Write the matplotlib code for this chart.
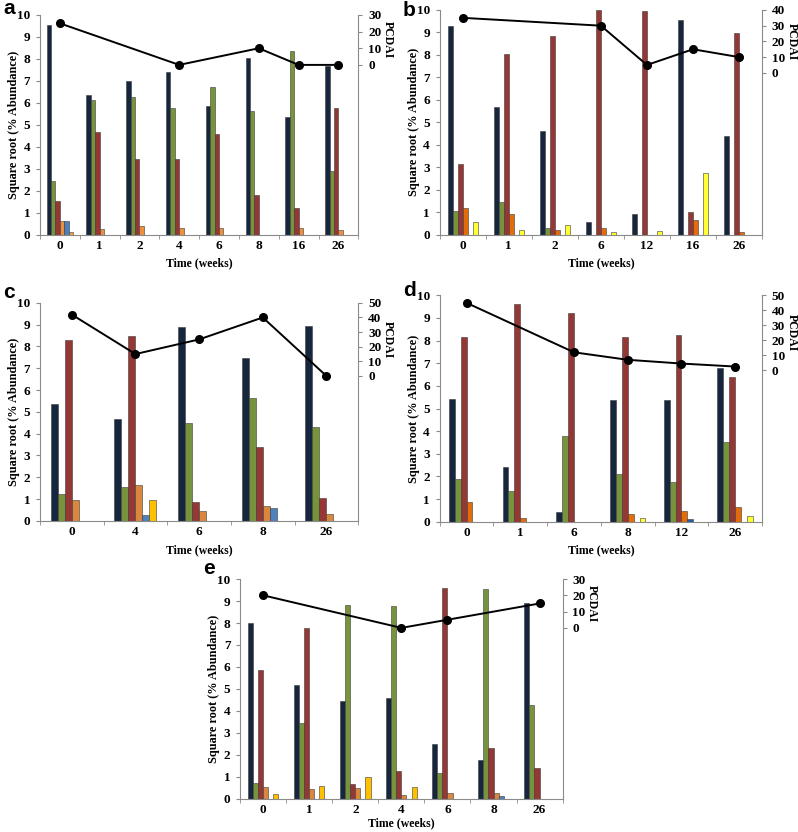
import matplotlib
matplotlib.use("Agg")
import matplotlib.pyplot as plt
import numpy as np

plt.rcParams['font.family'] = ['Liberation Serif', 'DejaVu Serif']

nan = np.nan

# panel a
weeks_a = ['0', '1', '2', '4', '6', '8', '16', '26']
navy_a = [9.55, 6.35, 7.0, 7.42, 5.85, 8.05, 5.35, 7.68]
green_a = [2.45, 6.12, 6.25, 5.75, 6.7, 5.65, 8.35, 2.9]
red_a = [1.55, 4.68, 3.43, 3.43, 4.58, 1.8, 1.22, 5.75]
orange_a = [0.62, 0.25, 0.38, 0.32, 0.3, 0, 0.3, 0.2]
blue_a = [0.6, 0, 0, 0, 0, 0, 0, 0]
yellow_a = [0.1, 0, 0, 0, 0, 0, 0, 0]
pcdai_a = [25, nan, nan, 0, nan, 10, 0, 0]

# panel b
weeks_b = ['0', '1', '2', '6', '12', '16', '26']
navy_b = [9.28, 5.7, 4.62, 0.57, 0.93, 9.55, 4.4]
green_b = [1.05, 1.47, 0.3, 0, 0, 0, 0]
red_b = [3.15, 8.02, 8.85, 10.0, 9.95, 1.02, 8.97]
orange_b = [1.2, 0.92, 0.2, 0.3, 0, 0.65, 0.13]
blue_b = [0, 0, 0, 0, 0, 0, 0]
yellow_b = [0.57, 0.2, 0.42, 0.1, 0.18, 2.73, 0]
pcdai_b = [35, nan, nan, 30, 5, 15, 10]

# panel c
weeks_c = ['0', '4', '6', '8', '26']
navy_c = [5.35, 4.68, 8.87, 7.45, 8.95]
green_c = [1.22, 1.57, 4.5, 5.65, 4.3]
red_c = [8.3, 8.47, 0.87, 3.4, 1.03]
orange_c = [0.97, 1.65, 0.45, 0.68, 0.32]
blue_c = [0, 0.25, 0, 0.57, 0]
yellow_c = [0, 0.97, 0, 0, 0]
pcdai_c = [42, 15, 25, 40, 0]

# panel d
weeks_d = ['0', '1', '6', '8', '12', '26']
navy_d = [5.4, 2.4, 0.42, 5.38, 5.38, 6.78]
green_d = [1.9, 1.37, 3.8, 2.12, 1.75, 3.52]
red_d = [8.15, 9.6, 9.23, 8.15, 8.23, 6.38]
orange_d = [0.87, 0.15, 0, 0.33, 0.45, 0.63]
blue_d = [0, 0, 0, 0, 0.12, 0]
yellow_d = [0, 0, 0, 0.17, 0, 0.25]
pcdai_d = [45, nan, 12, 7, 4.5, 2.5]

# panel e
weeks_e = ['0', '1', '2', '4', '6', '8', '26']
navy_e = [8.02, 5.17, 4.47, 4.57, 2.5, 1.78, 8.9]
green_e = [0.72, 3.47, 8.83, 8.78, 1.15, 9.55, 4.28]
red_e = [5.87, 7.77, 0.68, 1.25, 9.6, 2.3, 1.42]
orange_e = [0.52, 0.42, 0.48, 0.15, 0.25, 0.27, 0]
blue_e = [0, 0, 0, 0, 0, 0.13, 0]
yellow_e = [0.2, 0.6, 1.0, 0.52, 0, 0, 0]
pcdai_e = [20, nan, nan, 0, 5, nan, 15]

NAVY = '#17263f'
GREEN = '#77933c'
RED = '#953735'
AX_COL = '#8a8a8a'


def panel(rect, letter, letter_xy, weeks, series, colors, pcdai, pmax, plow, xpad=4):
    ax = fig.add_axes(rect)
    n = len(weeks)
    x = np.arange(n)
    w = 0.11
    for k, (vals, col) in enumerate(zip(series, colors)):
        ax.bar(x + (k - 2.5) * w, vals, w, color=col,
               edgecolor='#3a3a3a', linewidth=0.4, zorder=2)
    ax.set_xlim(-0.5, n - 0.5)
    ax.set_ylim(0, 10)
    ax.set_yticks(range(11))
    ax.set_xticks(x)
    ax.set_xticklabels(weeks)
    ax.set_xticks(np.arange(n + 1) - 0.5, minor=True)
    ax.tick_params(axis='x', which='major', length=0, pad=4)
    ax.tick_params(axis='x', which='minor', length=3, color=AX_COL, direction='out')
    ax.tick_params(axis='y', length=3, color=AX_COL, pad=4)
    for lab in ax.get_xticklabels() + ax.get_yticklabels():
        lab.set_fontweight('bold')
        lab.set_fontsize(9.5)
    ax.spines['top'].set_visible(False)
    ax.spines['right'].set_visible(False)
    for s in ('left', 'bottom'):
        ax.spines[s].set_color(AX_COL)
    ax.set_xlabel('Time (weeks)', fontweight='bold', fontsize=8.5, labelpad=xpad)
    ax.set_ylabel('Square root (% Abundance)', fontweight='bold', fontsize=8.8)
    ax.yaxis.set_label_coords(-0.062, 0.5)

    ax2 = ax.twinx()
    p = np.array(pcdai, dtype=float)
    ok = ~np.isnan(p)
    ax2.plot(x[ok], p[ok], color='black', linewidth=1.4, marker='o',
             markersize=5.5, zorder=3)
    ax2.set_ylim(plow, pmax)
    ax2.set_yticks(range(0, pmax + 1, 10))
    ax2.tick_params(axis='y', length=3, color=AX_COL, pad=4)
    for lab in ax2.get_yticklabels():
        lab.set_fontweight('bold')
        lab.set_fontsize(9.5)
    ax2.spines['top'].set_visible(False)
    ax2.spines['left'].set_visible(False)
    ax2.spines['bottom'].set_visible(False)
    ax2.spines['right'].set_color(AX_COL)
    yfrac = (pmax / 2 - plow) / (pmax - plow)
    ax2.text(1.092, yfrac, 'PCDAI', rotation=270, transform=ax2.transAxes,
             ha='center', va='center', fontweight='bold', fontsize=8.5)

    fig.text(letter_xy[0] / 798, 1 - letter_xy[1] / 832, letter,
             family='Liberation Sans', fontweight='bold', fontsize=15,
             ha='left', va='center')
    return ax


fig = plt.figure(figsize=(7.98, 8.32), dpi=100)

panel([0.050, 0.718, 0.399, 0.264], 'a', (3, 9), weeks_a,
      [navy_a, green_a, red_a, orange_a, blue_a, yellow_a],
      [NAVY, GREEN, RED, '#ec8f3e', '#4f81bd', '#f2a33a'],
      pcdai_a, 30, -102)
panel([0.551, 0.718, 0.404, 0.270], 'b', (403, 10), weeks_b,
      [navy_b, green_b, red_b, orange_b, blue_b, yellow_b],
      [NAVY, GREEN, RED, '#e36c0a', '#4f81bd', '#ffff33'],
      pcdai_b, 40, -103)
panel([0.050, 0.374, 0.399, 0.262], 'c', (3, 292), weeks_c,
      [navy_c, green_c, red_c, orange_c, blue_c, yellow_c],
      [NAVY, GREEN, RED, '#d9873f', '#4f81bd', '#ffc000'],
      pcdai_c, 50, -99)
panel([0.551, 0.373, 0.404, 0.272], 'd', (403, 290), weeks_d,
      [navy_d, green_d, red_d, orange_d, blue_d, yellow_d],
      [NAVY, GREEN, RED, '#e36c0a', '#1f5fa0', '#ffff33'],
      pcdai_d, 50, -101)
panel([0.301, 0.040, 0.404, 0.264], 'e', (203, 568), weeks_e,
      [navy_e, green_e, red_e, orange_e, blue_e, yellow_e],
      [NAVY, GREEN, RED, '#d9873f', '#4f81bd', '#ffc000'],
      pcdai_e, 30, -105, xpad=1)

fig.savefig('out.png', dpi=100)
